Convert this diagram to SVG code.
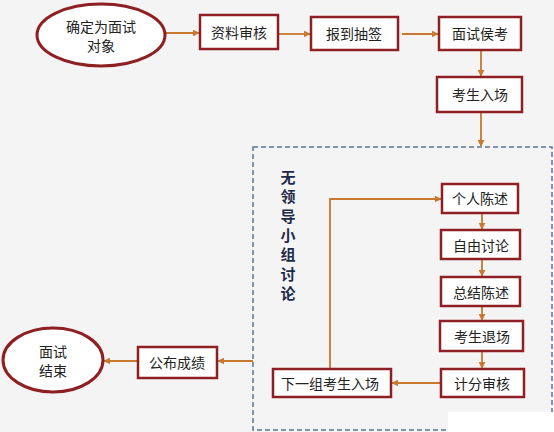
<svg xmlns="http://www.w3.org/2000/svg" width="554" height="432" viewBox="0 0 554 432">
<defs>
<marker id="ah" viewBox="0 0 10 10" refX="9" refY="5" markerWidth="7" markerHeight="7" markerUnits="userSpaceOnUse" orient="auto">
<path d="M0,0 L10,5 L0,10 z" fill="#C8782F"/>
</marker>
<style>
.box{fill:#ffffff;stroke:#8E1F22;stroke-width:2.5}
.ell{fill:#ffffff;stroke:#8E1F22;stroke-width:3}
.t{font-family:"Noto Sans CJK SC","Noto Sans",sans-serif;font-size:14px;fill:#222;text-anchor:middle;dominant-baseline:central}
.v{font-family:"Noto Sans CJK SC","Noto Sans",sans-serif;font-size:15px;font-weight:bold;fill:#1F2A4A;writing-mode:vertical-rl;letter-spacing:4.3px}
.c{fill:none;stroke:#C8782F;stroke-width:1.8}
</style>
</defs>
<rect x="0" y="0" width="554" height="432" fill="#F4F4F4"/>
<rect id="group-frame" x="253" y="147" width="299" height="283" fill="none" stroke="#5A7690" stroke-width="1.5" stroke-dasharray="5,3"/>
<rect x="448" y="412" width="106" height="20" fill="#ffffff"/>
<g id="connectors">
<line class="c" x1="166" y1="33" x2="199" y2="33" marker-end="url(#ah)"/>
<line class="c" x1="279" y1="34" x2="310" y2="34" marker-end="url(#ah)"/>
<line class="c" x1="402" y1="34" x2="438" y2="34" marker-end="url(#ah)"/>
<line class="c" x1="481" y1="50" x2="481" y2="76" marker-end="url(#ah)"/>
<line class="c" x1="481" y1="112" x2="481" y2="146" marker-end="url(#ah)"/>
<line class="c" x1="482" y1="213" x2="482" y2="229" marker-end="url(#ah)"/>
<line class="c" x1="482" y1="259" x2="482" y2="276" marker-end="url(#ah)"/>
<line class="c" x1="482" y1="306" x2="482" y2="320" marker-end="url(#ah)"/>
<line class="c" x1="482" y1="351" x2="482" y2="368" marker-end="url(#ah)"/>
<line class="c" x1="441" y1="383" x2="392" y2="383" marker-end="url(#ah)"/>
<polyline class="c" points="330,369 330,199 441,199" marker-end="url(#ah)"/>
<line class="c" x1="253" y1="361" x2="218" y2="361" marker-end="url(#ah)"/>
<line class="c" x1="138" y1="361" x2="104" y2="361" marker-end="url(#ah)"/>
</g>
<g id="start"><ellipse class="ell" cx="101" cy="35" rx="64" ry="31"/><text class="t" x="101" y="26">确定为面试</text><text class="t" x="101" y="45">对象</text></g>
<g id="review"><rect class="box" x="200" y="15" width="78" height="34"/><text class="t" x="239" y="32">资料审核</text></g>
<g id="checkin"><rect class="box" x="311" y="17" width="87" height="33"/><text class="t" x="354" y="33">报到抽签</text></g>
<g id="wait"><rect class="box" x="439" y="17" width="82" height="33"/><text class="t" x="480" y="33">面试侯考</text></g>
<g id="enter"><rect class="box" x="437" y="77" width="85" height="35"/><text class="t" x="480" y="94">考生入场</text></g>
<g id="label"><text class="v" x="288" y="170">无领导小组讨论</text></g>
<g id="statement"><rect class="box" x="442" y="184" width="76" height="29"/><text class="t" x="480" y="198">个人陈述</text></g>
<g id="discuss"><rect class="box" x="441" y="230" width="79" height="29"/><text class="t" x="481" y="245">自由讨论</text></g>
<g id="summary"><rect class="box" x="441" y="277" width="79" height="29"/><text class="t" x="481" y="292">总结陈述</text></g>
<g id="leave"><rect class="box" x="440" y="321" width="83" height="30"/><text class="t" x="482" y="336">考生退场</text></g>
<g id="score"><rect class="box" x="441" y="369" width="83" height="28"/><text class="t" x="482" y="383">计分审核</text></g>
<g id="next"><rect class="box" x="273" y="369" width="118" height="28"/><text class="t" x="330" y="383">下一组考生入场</text></g>
<g id="publish"><rect class="box" x="138" y="347" width="79" height="31"/><text class="t" x="177" y="362">公布成绩</text></g>
<g id="end"><ellipse class="ell" cx="53" cy="360" rx="50" ry="32"/><text class="t" x="53" y="351">面试</text><text class="t" x="53" y="370">结束</text></g>
</svg>
